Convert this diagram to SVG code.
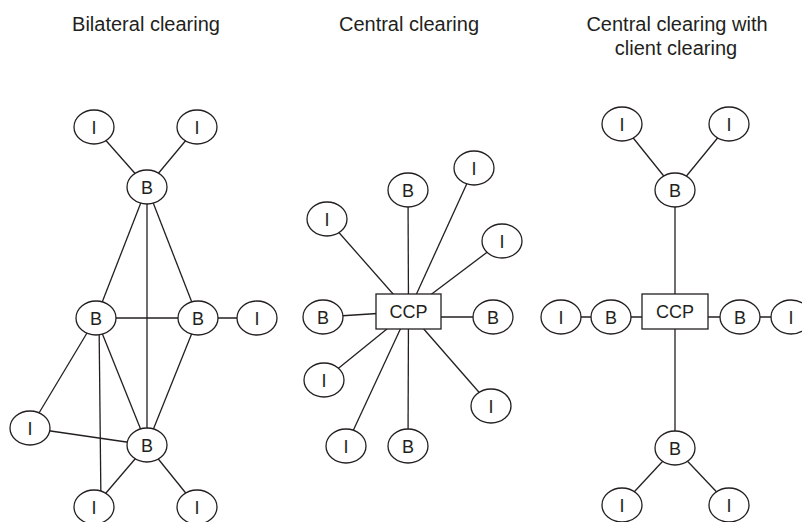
<svg xmlns="http://www.w3.org/2000/svg" width="802" height="522" viewBox="0 0 802 522">
<style>
.t{font-family:"Liberation Sans",Arial,sans-serif;font-size:20px;fill:#231f20;text-anchor:middle}
.l{font-family:"Liberation Sans",Arial,sans-serif;font-size:18px;fill:#231f20;text-anchor:middle}
.n{fill:#fff;stroke:#231f20;stroke-width:1.3}
.e line{stroke:#231f20;stroke-width:1.3}
</style>
<rect width="802" height="522" fill="#fff"/>
<g id="titles">
<text class="t" x="146" y="31">Bilateral clearing</text>
<text class="t" x="409" y="31">Central clearing</text>
<text class="t" x="677" y="31">Central clearing with</text>
<text class="t" x="676" y="55">client clearing</text>
</g>
<g id="connectors" class="e">
<!-- bilateral -->
<line x1="94" y1="127" x2="147" y2="187"/>
<line x1="197" y1="127" x2="147" y2="187"/>
<line x1="147" y1="187" x2="96" y2="318"/>
<line x1="147" y1="187" x2="198" y2="318"/>
<line x1="147" y1="187" x2="147" y2="445"/>
<line x1="96" y1="318" x2="198" y2="318"/>
<line x1="198" y1="318" x2="257" y2="318"/>
<line x1="96" y1="318" x2="30" y2="428"/>
<line x1="96" y1="318" x2="147" y2="445"/>
<line x1="99" y1="318" x2="101" y2="507"/>
<line x1="198" y1="318" x2="147" y2="445"/>
<line x1="30" y1="428" x2="147" y2="445"/>
<line x1="147" y1="445" x2="94" y2="507"/>
<line x1="147" y1="445" x2="197" y2="507"/>
<!-- central -->
<line x1="408.5" y1="311.5" x2="408" y2="190"/>
<line x1="408.5" y1="311.5" x2="327" y2="219"/>
<line x1="408.5" y1="311.5" x2="474" y2="168"/>
<line x1="408.5" y1="311.5" x2="502" y2="241"/>
<line x1="408.5" y1="311.5" x2="323" y2="317"/>
<line x1="408.5" y1="317" x2="493" y2="317"/>
<line x1="408.5" y1="311.5" x2="324" y2="380"/>
<line x1="408.5" y1="311.5" x2="491" y2="406"/>
<line x1="408.5" y1="311.5" x2="346" y2="446"/>
<line x1="408.5" y1="311.5" x2="408" y2="446"/>
<!-- client -->
<line x1="622" y1="124" x2="675" y2="190"/>
<line x1="729" y1="124" x2="675" y2="190"/>
<line x1="675" y1="190" x2="675" y2="448"/>
<line x1="561" y1="317" x2="791" y2="317"/>
<line x1="675" y1="448" x2="622" y2="505"/>
<line x1="675" y1="448" x2="729" y2="505"/>
</g>
<!-- bilateral nodes -->
<g id="b-i1"><ellipse class="n" cx="94" cy="127" rx="20" ry="17"/><text class="l" x="94" y="133.5">I</text></g>
<g id="b-i2"><ellipse class="n" cx="197" cy="127" rx="20" ry="17"/><text class="l" x="197" y="133.5">I</text></g>
<g id="b-b1"><ellipse class="n" cx="147" cy="187" rx="20" ry="17"/><text class="l" x="147" y="193.5">B</text></g>
<g id="b-b2"><ellipse class="n" cx="96" cy="318" rx="20" ry="17"/><text class="l" x="96" y="324.5">B</text></g>
<g id="b-b3"><ellipse class="n" cx="198" cy="318" rx="20" ry="17"/><text class="l" x="198" y="324.5">B</text></g>
<g id="b-i3"><ellipse class="n" cx="257" cy="318" rx="20" ry="17"/><text class="l" x="257" y="324.5">I</text></g>
<g id="b-i4"><ellipse class="n" cx="30" cy="428" rx="20" ry="17"/><text class="l" x="30" y="434.5">I</text></g>
<g id="b-b4"><ellipse class="n" cx="147" cy="445" rx="20" ry="17"/><text class="l" x="147" y="451.5">B</text></g>
<g id="b-i5"><ellipse class="n" cx="94" cy="507" rx="20" ry="17"/><text class="l" x="94" y="513.5">I</text></g>
<g id="b-i6"><ellipse class="n" cx="197" cy="507" rx="20" ry="17"/><text class="l" x="197" y="513.5">I</text></g>
<!-- central nodes -->
<g id="c-ccp"><rect class="n" x="376" y="294" width="65" height="35"/><text class="l" x="408.5" y="318">CCP</text></g>
<g id="c-b1"><ellipse class="n" cx="408" cy="190" rx="20" ry="17"/><text class="l" x="408" y="196.5">B</text></g>
<g id="c-i1"><ellipse class="n" cx="327" cy="219" rx="20" ry="17"/><text class="l" x="327" y="225.5">I</text></g>
<g id="c-i2"><ellipse class="n" cx="474" cy="168" rx="20" ry="17"/><text class="l" x="474" y="174.5">I</text></g>
<g id="c-i3"><ellipse class="n" cx="502" cy="241" rx="20" ry="17"/><text class="l" x="502" y="247.5">I</text></g>
<g id="c-b2"><ellipse class="n" cx="323" cy="317" rx="20" ry="17"/><text class="l" x="323" y="323.5">B</text></g>
<g id="c-b3"><ellipse class="n" cx="493" cy="317" rx="20" ry="17"/><text class="l" x="493" y="323.5">B</text></g>
<g id="c-i4"><ellipse class="n" cx="324" cy="380" rx="20" ry="17"/><text class="l" x="324" y="386.5">I</text></g>
<g id="c-i5"><ellipse class="n" cx="491" cy="406" rx="20" ry="17"/><text class="l" x="491" y="412.5">I</text></g>
<g id="c-i6"><ellipse class="n" cx="346" cy="446" rx="20" ry="17"/><text class="l" x="346" y="452.5">I</text></g>
<g id="c-b4"><ellipse class="n" cx="408" cy="446" rx="20" ry="17"/><text class="l" x="408" y="452.5">B</text></g>
<!-- client nodes -->
<g id="k-ccp"><rect class="n" x="642" y="294" width="66" height="35"/><text class="l" x="675" y="318">CCP</text></g>
<g id="k-i1"><ellipse class="n" cx="622" cy="124" rx="20" ry="17"/><text class="l" x="622" y="130.5">I</text></g>
<g id="k-i2"><ellipse class="n" cx="729" cy="124" rx="20" ry="17"/><text class="l" x="729" y="130.5">I</text></g>
<g id="k-b1"><ellipse class="n" cx="675" cy="190" rx="20" ry="17"/><text class="l" x="675" y="196.5">B</text></g>
<g id="k-b2"><ellipse class="n" cx="611" cy="317" rx="20" ry="17"/><text class="l" x="611" y="323.5">B</text></g>
<g id="k-i3"><ellipse class="n" cx="561" cy="317" rx="20" ry="17"/><text class="l" x="561" y="323.5">I</text></g>
<g id="k-b3"><ellipse class="n" cx="740" cy="317" rx="20" ry="17"/><text class="l" x="740" y="323.5">B</text></g>
<g id="k-i4"><ellipse class="n" cx="791" cy="317" rx="20" ry="17"/><text class="l" x="791" y="323.5">I</text></g>
<g id="k-b4"><ellipse class="n" cx="675" cy="448" rx="20" ry="17"/><text class="l" x="675" y="454.5">B</text></g>
<g id="k-i5"><ellipse class="n" cx="622" cy="505" rx="20" ry="17"/><text class="l" x="622" y="511.5">I</text></g>
<g id="k-i6"><ellipse class="n" cx="729" cy="505" rx="20" ry="17"/><text class="l" x="729" y="511.5">I</text></g>
</svg>
